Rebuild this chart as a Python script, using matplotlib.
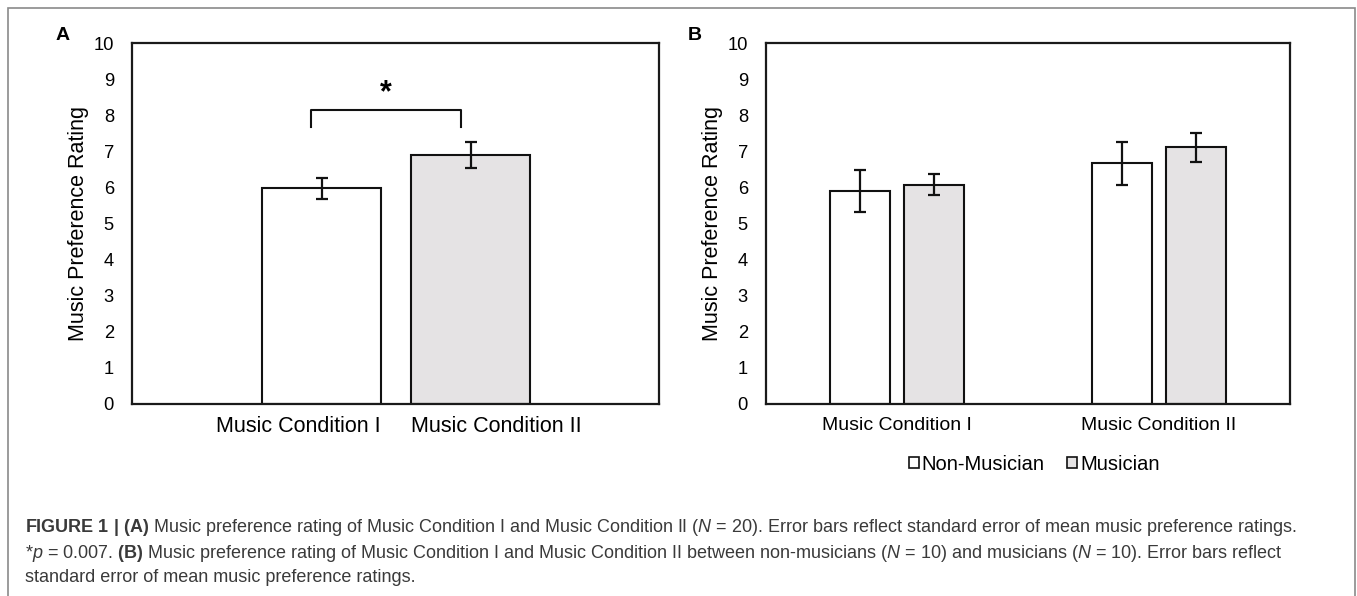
import numpy as np
import matplotlib
matplotlib.use("Agg")
import matplotlib.pyplot as plt
from matplotlib.patches import Patch, Rectangle

plt.rcParams['font.family'] = ['Liberation Sans', 'DejaVu Sans']
plt.rcParams['mathtext.fontset'] = 'custom'
plt.rcParams['mathtext.rm'] = 'Liberation Sans'
plt.rcParams['mathtext.bf'] = 'Liberation Sans:bold'
plt.rcParams['mathtext.it'] = 'Liberation Sans:italic'

# panel A data
conditions = ['Music Condition I', 'Music Condition II']
mean_a = [5.97, 6.90]
sem_a = [0.30, 0.36]

# panel B data
groups = ['Music Condition I', 'Music Condition II']
nonmus_mean = [5.90, 6.67]
nonmus_sem = [0.57, 0.60]
mus_mean = [6.08, 7.11]
mus_sem = [0.30, 0.41]
series_names = ['Non-Musician', 'Musician']

yticks = list(range(0, 11))
gray = '#e5e3e4'
W, H = 1357, 596

fig = plt.figure(figsize=(W / 100, H / 100), dpi=100)

def style_axis(ax):
    ax.set_ylim(0, 10)
    ax.set_yticks(yticks)
    ax.tick_params(axis='both', length=0, labelsize=13.2, pad=13)
    ax.tick_params(axis='x', pad=9)
    for s in ax.spines.values():
        s.set_linewidth(1.6)
        s.set_color('#1a1a1a')
    ax.set_ylabel('Music Preference Rating', fontsize=15.5, labelpad=3)

# ---- panel A
axA = fig.add_axes([132 / W, 192 / H, 527 / W, 361 / H])
xa = np.arange(len(conditions))
wa = 0.796
axA.bar(xa, mean_a, wa, color=['white', gray], edgecolor='#111111', linewidth=1.5, zorder=2)
axA.errorbar(xa, mean_a, yerr=sem_a, fmt='none', ecolor='#111111', elinewidth=1.6,
             capsize=4, capthick=1.6, zorder=3)
axA.set_xlim(-1.268, 2.258)
style_axis(axA)
axA.set_xticks([xa[0] + wa / 2, xa[1] - wa / 2])
axA.set_xticklabels(conditions, fontsize=15.5)
axA.get_xticklabels()[0].set_ha('right')
axA.get_xticklabels()[1].set_ha('left')
# significance bracket
bx = xa - 0.07
axA.plot([bx[0], bx[0], bx[1], bx[1]], [7.67, 8.15, 8.15, 7.67], color='#111111', lw=1.5)
axA.text(bx.mean(), 8.6, '*', ha='center', va='center', fontsize=22, fontweight='bold')
fig.text(63 / W, 1 - 36 / H, 'A', fontsize=14, fontweight='bold', ha='center', va='center')

# ---- panel B
axB = fig.add_axes([766 / W, 192 / H, 524 / W, 361 / H])
xb = np.arange(len(groups))
wb = 0.229
off = 0.143
axB.bar(xb - off, nonmus_mean, wb, color='white', edgecolor='#111111', linewidth=1.5, zorder=2)
axB.bar(xb + off, mus_mean, wb, color=gray, edgecolor='#111111', linewidth=1.5, zorder=2)
axB.errorbar(xb - off, nonmus_mean, yerr=nonmus_sem, fmt='none', ecolor='#111111',
             elinewidth=1.6, capsize=4, capthick=1.6, zorder=3)
axB.errorbar(xb + off, mus_mean, yerr=mus_sem, fmt='none', ecolor='#111111',
             elinewidth=1.6, capsize=4, capthick=1.6, zorder=3)
axB.set_xlim(-0.5, 1.5)
style_axis(axB)
axB.set_xticks(xb)
axB.set_xticklabels(groups, fontsize=14)
fig.text(695 / W, 1 - 35 / H, 'B', fontsize=14, fontweight='bold', ha='center', va='center')

handles = [Patch(facecolor='white', edgecolor='#111111', linewidth=1.2),
           Patch(facecolor=gray, edgecolor='#111111', linewidth=1.2)]
fig.legend(handles, series_names, loc='center', bbox_to_anchor=(1034 / W, 1 - 464 / H),
           ncol=2, frameon=False, fontsize=14.5, handlelength=0.5, handleheight=0.5,
           handletextpad=0.15, columnspacing=1.1)

# outer frame
fig.patches.append(Rectangle((8 / W, -0.1), (1355 - 8) / W, 1.1 - 8 / H,
                             transform=fig.transFigure, fill=False,
                             edgecolor='#8a8a8a', linewidth=1.2))

# caption
cap_color = '#3a3a3a'
lines = [
    r"$\mathbf{FIGURE\ 1\ |\ (A)}$ Music preference rating of Music Condition I and Music Condition II ($\mathit{N}$ = 20). Error bars reflect standard error of mean music preference ratings.",
    r"*$\mathit{p}$ = 0.007. $\mathbf{(B)}$ Music preference rating of Music Condition I and Music Condition II between non-musicians ($\mathit{N}$ = 10) and musicians ($\mathit{N}$ = 10). Error bars reflect",
    r"standard error of mean music preference ratings.",
]
for i, ln in enumerate(lines):
    fig.text(25 / W, 1 - (528 + 25 * i) / H, ln, fontsize=13, color=cap_color,
             ha='left', va='center')

fig.savefig('out.png', dpi=100)
